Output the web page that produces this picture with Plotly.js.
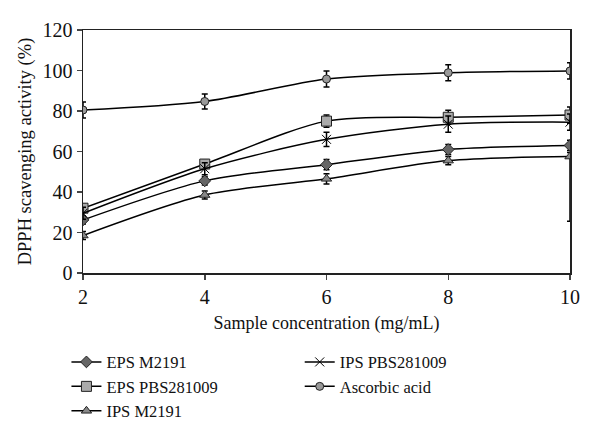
<!DOCTYPE html>
<html><head><meta charset="utf-8">
<script src="https://cdn.plot.ly/plotly-3.0.1.min.js"></script>
<style>body{margin:0;background:#fff}</style>
</head><body><div id="chart" style="width:600px;height:441px"></div>
<script>
const conc = [2, 4, 6, 8, 10];
const epsM2191 = [26.2, 45.5, 53.5, 61, 63];
const epsM2191Err = [2, 2, 2.5, 2.5, 2.5];
const epsPBS = [32, 53.8, 75, 76.9, 78];
const epsPBSErr = [2, 2, 3, 3.5, 4];
const ipsM2191 = [18.5, 38.5, 46.5, 55.5, 57.5];
const ipsM2191Err = [2, 2, 2.5, 2, 2];
const ipsM2191ErrMinus = [2, 2, 2.5, 2, 32];
const ipsPBS = [29.5, 51.5, 66, 73.5, 74.5];
const ipsPBSErr = [3, 3, 3.5, 4, 4];
const ascorbic = [80.5, 84.7, 95.8, 98.9, 99.8];
const ascorbicErr = [4, 3.7, 4, 4, 4];

function tr(name, y, e, sym, fill, size, legend, em) {
  return {
    x: conc, y: y, name: name, type: 'scatter', mode: 'lines+markers',
    line: {color: '#000', width: 1.5, shape: 'spline', smoothing: 0.8},
    marker: {symbol: sym, color: fill, size: size, line: {color: '#222', width: 1}},
    error_y: {type: 'data', array: e, arrayminus: em || e, visible: true, color: '#000', thickness: 1.5, width: 3},
    legend: legend
  };
}
const data = [
  tr('EPS M2191', epsM2191, epsM2191Err, 'diamond', '#666', 9, 'legend'),
  tr('EPS PBS281009', epsPBS, epsPBSErr, 'square', '#aaa', 10, 'legend'),
  tr('IPS M2191', ipsM2191, ipsM2191Err, 'triangle-up', '#888', 9, 'legend', ipsM2191ErrMinus),
  tr('IPS PBS281009', ipsPBS, ipsPBSErr, 'x-thin-open', '#000', 9, 'legend2'),
  tr('Ascorbic acid', ascorbic, ascorbicErr, 'circle', '#999', 8, 'legend2')
];
const fam = "'Liberation Serif', 'Times New Roman', serif";
const tickFont = {family: fam, size: 20, color: '#111'};
const titleFont = {family: fam, size: 18, color: '#111'};
const legFont = {family: fam, size: 16.5, color: '#111'};
const layout = {
  width: 600, height: 441,
  margin: {l: 83, r: 30, t: 30, b: 168, autoexpand: false},
  paper_bgcolor: '#fff', plot_bgcolor: '#fff',
  font: titleFont,
  showlegend: true,
  xaxis: {
    range: [2, 10], tickvals: conc, ticks: 'outside', ticklen: 5, tickwidth: 1.5,
    showline: true, linecolor: '#222', linewidth: 1.5, mirror: true, showgrid: false, zeroline: false,
    title: {text: 'Sample concentration (mg/mL)', font: titleFont, standoff: 10},
    tickfont: tickFont
  },
  yaxis: {
    range: [0, 120], dtick: 20, ticks: 'outside', ticklen: 5, tickwidth: 1.5,
    showline: true, linecolor: '#222', linewidth: 1.5, mirror: true, showgrid: false, zeroline: false,
    title: {text: 'DPPH scavenging activity (%)', font: {family: fam, size: 18.5, color: '#111'}, standoff: 6},
    tickfont: tickFont
  },
  legend: {x: -0.034, y: -0.295, xanchor: 'left', yanchor: 'top', font: legFont, tracegroupgap: 0, itemwidth: 30, bgcolor: 'rgba(0,0,0,0)'},
  legend2: {x: 0.445, y: -0.295, xanchor: 'left', yanchor: 'top', font: legFont, tracegroupgap: 0, itemwidth: 30, bgcolor: 'rgba(0,0,0,0)'}
};
Plotly.newPlot('chart', data, layout, {displayModeBar: false, staticPlot: true});
</script></body></html>
